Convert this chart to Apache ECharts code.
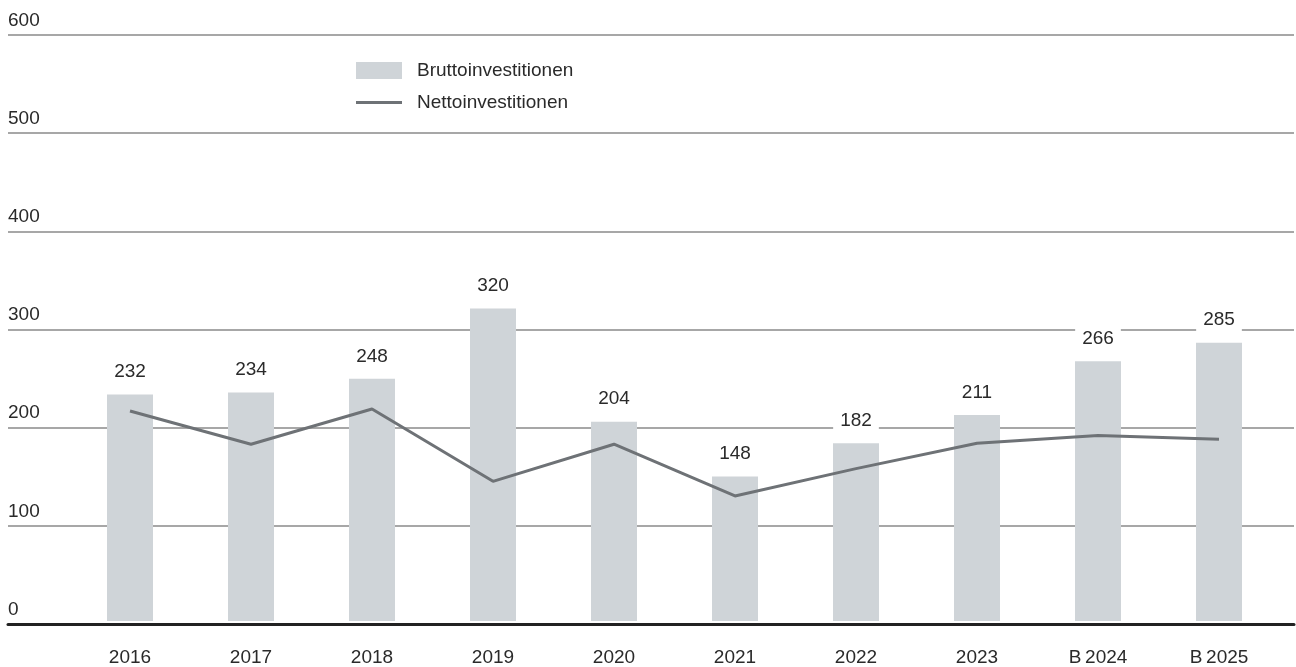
<!DOCTYPE html>
<html>
<head>
<meta charset="utf-8">
<script src="https://cdn.jsdelivr.net/npm/echarts@6/dist/echarts.min.js"></script>
<style>
  html, body { margin: 0; padding: 0; background: #fff; }
  #chart { width: 1296px; height: 667px; }
</style>
</head>
<body>
<div id="chart"></div>
<script>
// Investitionen je Jahr (B = Budget)
const categories = ['2016', '2017', '2018', '2019', '2020', '2021', '2022', '2023', 'B\u20092024', 'B\u20092025'];
const bruttoinvestitionen = [232, 234, 248, 320, 204, 148, 182, 211, 266, 285];
const nettoinvestitionen = [215, 181, 217, 143, 181, 128, 156, 182, 190, 186];
const yTicks = { min: 0, max: 600, interval: 100 };

const FONT = '"Liberation Sans", Arial, sans-serif';
const WEIGHT = 'normal';
const SIZE = 19;
const TEXT = '#2a2a2a';
const BAR = '#cfd4d8';
const LINE = '#6e7276';

const chart = echarts.init(document.getElementById('chart'), null, { renderer: 'canvas' });

const legendText = { fontFamily: FONT, fontWeight: WEIGHT, fontSize: SIZE, color: TEXT, padding: [0, 0, 0, 10] };

chart.setOption({
  animation: false,
  backgroundColor: '#ffffff',
  textStyle: { fontFamily: FONT, fontWeight: WEIGHT },
  legend: [
    {
      left: 356,
      top: 61,
      padding: 0,
      itemWidth: 46,
      itemHeight: 17,
      textStyle: legendText,
      data: [{ name: 'Bruttoinvestitionen', icon: 'rect' }]
    },
    {
      left: 356,
      top: 93,
      padding: 0,
      itemWidth: 46,
      itemHeight: 3,
      textStyle: legendText,
      data: [{ name: 'Nettoinvestitionen', icon: 'rect' }]
    }
  ],
  grid: [
    // full-width grid carrying the horizontal rules and baseline
    { left: 8, right: 2, top: 35, bottom: 43 },
    // inner grid for the categories
    { left: 69.5, right: 16.5, top: 35, bottom: 43 }
  ],
  xAxis: [
    {
      gridIndex: 0,
      type: 'category',
      data: categories,
      axisLine: { show: true, lineStyle: { color: '#222222', width: 3 } },
      axisTick: { show: false },
      axisLabel: { show: false },
      splitLine: { show: false }
    },
    {
      gridIndex: 1,
      type: 'category',
      data: categories,
      axisLine: { show: false },
      axisTick: { show: false },
      axisLabel: { fontFamily: FONT, fontWeight: WEIGHT, fontSize: SIZE, color: TEXT, margin: 27 }
    }
  ],
  yAxis: [
    {
      gridIndex: 0,
      type: 'value',
      min: yTicks.min,
      max: yTicks.max,
      interval: yTicks.interval,
      axisLine: { show: false },
      axisTick: { show: false },
      axisLabel: {
        inside: true,
        margin: 0,
        verticalAlign: 'bottom',
        padding: [0, 0, 5, 0],
        fontFamily: FONT,
        fontWeight: WEIGHT,
        fontSize: SIZE,
        color: TEXT
      },
      splitLine: {
        show: true,
        lineStyle: { color: '#8a8a8a', width: 1.5 }
      }
    },
    {
      gridIndex: 1,
      type: 'value',
      min: yTicks.min,
      max: yTicks.max,
      interval: yTicks.interval,
      show: false,
      splitLine: { show: false }
    }
  ],
  series: [
    {
      name: 'Bruttoinvestitionen',
      type: 'bar',
      xAxisIndex: 1,
      yAxisIndex: 1,
      data: bruttoinvestitionen,
      barWidth: 46,
      itemStyle: { color: BAR },
      z: 3,
      label: {
        show: true,
        position: 'top',
        distance: 11,
        fontFamily: FONT,
        fontWeight: WEIGHT,
        fontSize: SIZE,
        color: TEXT,
        backgroundColor: '#ffffff',
        padding: [2, 7]
      }
    },
    {
      name: 'Nettoinvestitionen',
      type: 'line',
      xAxisIndex: 1,
      yAxisIndex: 1,
      data: nettoinvestitionen,
      symbol: 'none',
      lineStyle: { color: LINE, width: 3 },
      itemStyle: { color: LINE },
      z: 4
    }
  ]
});
</script>
</body>
</html>
